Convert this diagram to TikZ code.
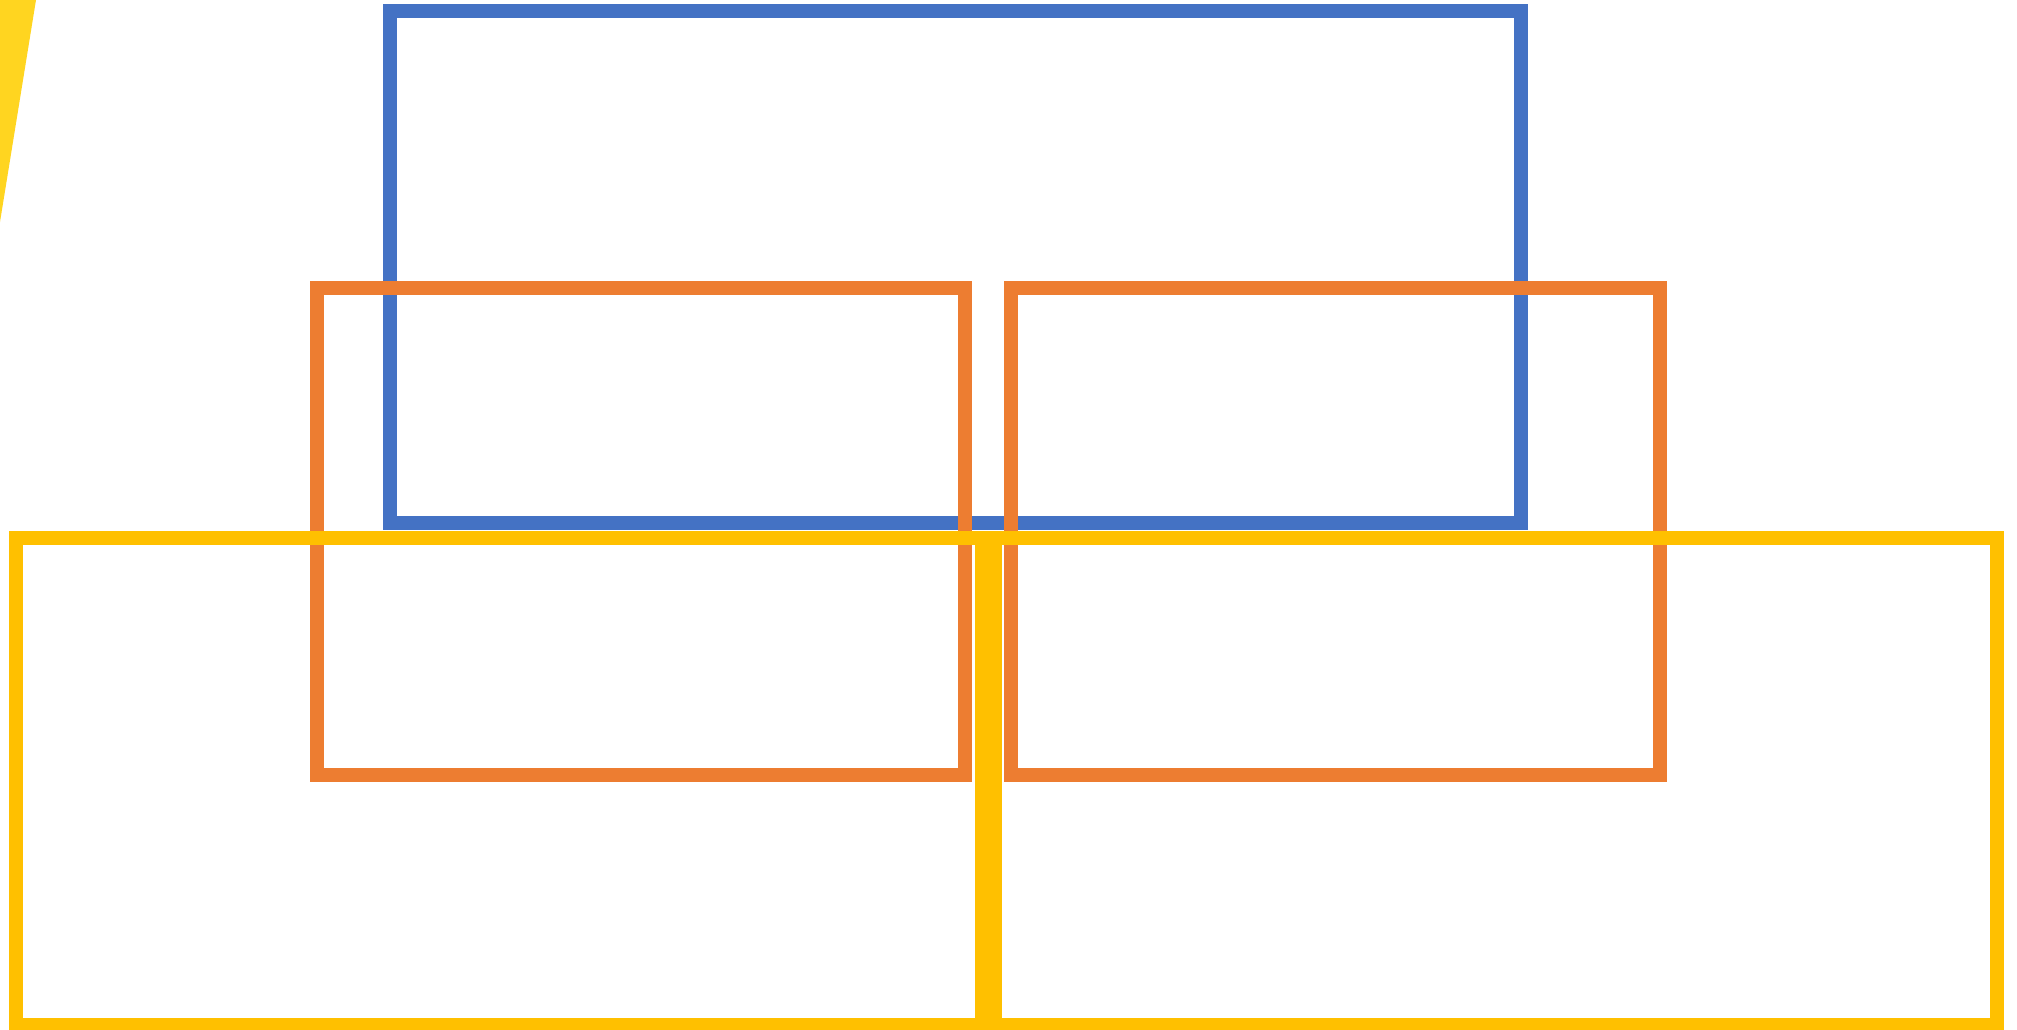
\documentclass[tikz,border=0pt]{standalone}
\definecolor{boxblue}{HTML}{4472C4}
\definecolor{boxorange}{HTML}{ED7D31}
\definecolor{boxyellow}{HTML}{FFC000}
\definecolor{wedgeyellow}{HTML}{FFD520}
\tikzset{
  frame/.style={line width=0.14cm, line join=miter},
  blueframe/.style={frame, draw=boxblue},
  orangeframe/.style={frame, draw=boxorange},
  yellowframe/.style={frame, draw=boxyellow},
}
\begin{document}
\begin{tikzpicture}[x=0.01cm, y=-0.01cm]
  \useasboundingbox (0,0) rectangle (2017,1029);
  \fill[white] (0,0) rectangle (2017,1029);
  % yellow wedge in the top-left corner
  \fill[wedgeyellow] (0,0) -- (36,0) -- (0,222) -- cycle;
  % blue frame
  \draw[blueframe] (390,11) rectangle (1521,523);
  % orange frames
  \draw[orangeframe] (317,288) rectangle (964.5,775);
  \draw[orangeframe] (1010.5,288) rectangle (1659.5,775);
  % yellow frames
  \draw[yellowframe] (16,538) rectangle (981.5,1024.7);
  \draw[yellowframe] (995,538) rectangle (1996.5,1024.7);
\end{tikzpicture}
\end{document}
